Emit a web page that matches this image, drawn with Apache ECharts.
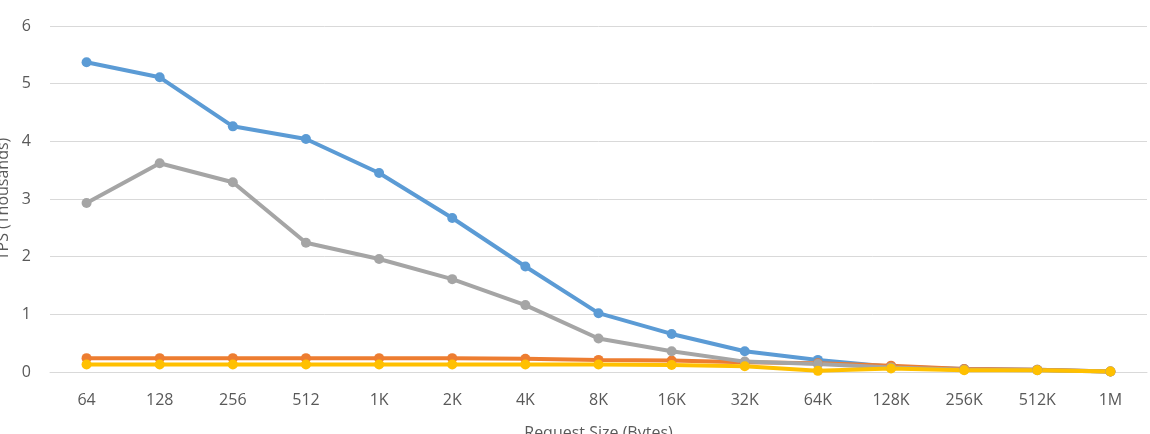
<!DOCTYPE html>
<html>
<head>
<meta charset="utf-8">
<script src="https://cdn.jsdelivr.net/npm/echarts@6/dist/echarts.min.js"></script>
<style>
  html, body { margin: 0; padding: 0; background: #fff; }
  #main { width: 1150px; height: 434px; }
</style>
</head>
<body>
<div id="main"></div>
<script>
// request sizes on the x axis
var sizes = ['64', '128', '256', '512', '1K', '2K', '4K', '8K', '16K', '32K', '64K', '128K', '256K', '512K', '1M'];

// TPS in thousands
var blueTps   = [5.37, 5.11, 4.26, 4.04, 3.45, 2.67, 1.83, 1.02, 0.66, 0.36, 0.21, 0.09, 0.05, 0.04, 0.01];
var orangeTps = [0.24, 0.24, 0.24, 0.24, 0.24, 0.24, 0.23, 0.21, 0.20, 0.17, 0.15, 0.11, 0.05, 0.04, 0.01];
var grayTps   = [2.93, 3.62, 3.29, 2.24, 1.96, 1.61, 1.16, 0.58, 0.36, 0.18, 0.14, 0.08, 0.04, 0.03, 0.01];
var yellowTps = [0.13, 0.13, 0.13, 0.13, 0.13, 0.13, 0.13, 0.13, 0.12, 0.10, 0.02, 0.06, 0.03, 0.03, 0.01];

var yTicks = { min: 0, max: 6, interval: 1 };

var chart = echarts.init(document.getElementById('main'), null, { renderer: 'canvas' });

function line(name, data, color) {
    return {
        name: name,
        type: 'line',
        data: data,
        symbol: 'circle',
        symbolSize: 10,
        lineStyle: { width: 4, color: color },
        itemStyle: { color: color },
        animation: false
    };
}

var font = 'Open Sans';
var textGray = '#595959';

chart.setOption({
    backgroundColor: '#fff',
    grid: { left: 50, right: 3, top: 26, bottom: 62, containLabel: false, outerBoundsMode: 'none' },
    xAxis: {
        type: 'category',
        data: sizes,
        boundaryGap: true,
        name: 'Request Size (Bytes)',
        nameLocation: 'middle',
        nameGap: 53,
        nameTextStyle: { color: textGray, fontSize: 16, fontFamily: font },
        axisLine: { show: true, lineStyle: { color: '#d9d9d9', width: 1 } },
        axisTick: { show: false },
        axisLabel: { color: textGray, fontSize: 16, fontFamily: font, margin: 20 }
    },
    yAxis: {
        type: 'value',
        min: yTicks.min,
        max: yTicks.max,
        interval: yTicks.interval,
        name: 'TPS (Thousands)',
        nameLocation: 'middle',
        nameGap: 37,
        nameTextStyle: { color: textGray, fontSize: 16, fontFamily: font },
        axisLine: { show: false },
        axisTick: { show: false },
        axisLabel: { color: textGray, fontSize: 16, fontFamily: font, margin: 19 },
        splitLine: { lineStyle: { color: '#d9d9d9', width: 1 } }
    },
    series: [
        line('blue', blueTps, '#5b9bd5'),
        line('orange', orangeTps, '#ed7d31'),
        line('gray', grayTps, '#a5a5a5'),
        line('yellow', yellowTps, '#ffc000')
    ]
});
</script>
</body>
</html>
